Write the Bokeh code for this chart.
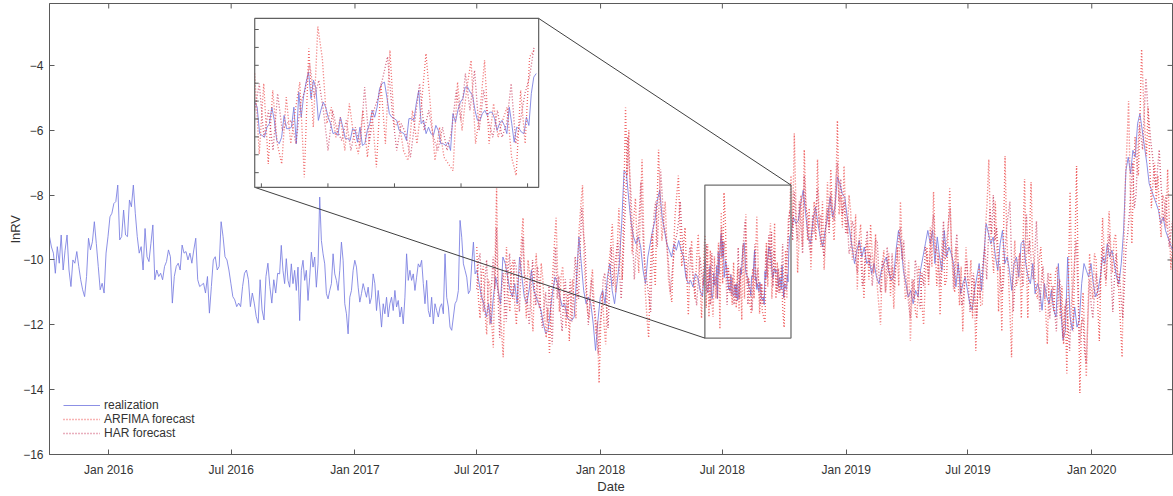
import numpy as np
import pandas as pd
from bokeh.plotting import figure
from bokeh.models import (Range1d, MonthsTicker, SingleIntervalTicker,
                          DatetimeTickFormatter, Legend, LegendItem)
from bokeh.embed import file_html
from bokeh.resources import INLINE

# ---------------- data ----------------
seg_edges = ["2015-10-05", "2016-09-11", "2017-07-01", "2018-06-05",
             "2018-10-11", "2019-05-06", "2020-04-30"]

real_1 = [-9.28, -9.60, -9.79, -10.41, -9.59, -10.10, -9.23, -10.31, -9.70, -9.23, -10.31, -10.82,
          -10.00, -10.10, -9.74, -10.20, -10.61, -10.92, -11.13, -10.51, -9.33, -9.69, -9.44, -8.82,
          -9.49, -10.20, -10.92, -10.72, -11.02, -9.79, -9.28, -8.67, -8.56, -8.26, -8.20, -7.69,
          -9.38, -9.28, -8.46, -9.23, -9.28, -8.15, -8.36, -7.69, -8.56, -9.28, -9.79, -9.59, -10.31,
          -9.03, -9.90, -10.05, -9.49, -8.92, -10.61, -10.31, -10.51, -10.41, -10.61, -10.20, -10.05,
          -9.69, -9.90, -11.33, -10.51, -10.20, -10.10, -10.31, -9.54, -9.79, -9.74, -10.00, -9.79,
          -10.10, -9.69, -9.33, -10.61, -10.82, -10.77, -10.72, -11.02, -10.51, -11.64, -10.82,
          -10.00, -9.90, -10.31, -10.20, -8.82, -9.28, -9.90, -10.00, -10.31, -10.72, -11.13, -11.23,
          -11.44, -11.33, -11.44, -10.82, -10.41, -10.31, -10.61, -11.44, -11.02, -11.33, -11.74,
          -11.95, -10.61, -11.54, -11.85, -10.51, -10.10, -10.82, -11.33, -10.61, -11.02, -10.41]

real_2 = [-10.43, -9.55, -10.32, -10.73, -9.96, -10.63, -10.84, -10.12, -10.73, -10.32, -10.94,
          -10.22, -11.87, -10.32, -10.01, -10.63, -10.32, -11.25, -10.53, -9.76, -10.22, -9.91,
          -10.84, -10.12, -8.06, -9.40, -9.81, -10.12, -11.04, -11.20, -10.94, -10.73, -9.81,
          -10.43, -10.63, -10.94, -10.32, -9.45, -10.01, -11.35, -11.66, -12.28, -11.15, -10.94,
          -10.32, -10.01, -10.22, -10.84, -11.30, -11.04, -10.73, -10.94, -11.15, -10.84, -11.35,
          -11.15, -10.43, -10.73, -11.56, -10.94, -11.45, -12.07, -11.35, -11.66, -11.15, -11.76,
          -11.35, -11.15, -11.56, -10.94, -11.45, -11.25, -11.76, -11.45, -11.97, -11.15, -9.81,
          -10.63, -10.32, -10.63, -10.43, -10.94, -10.53, -10.12, -10.22, -10.01, -10.73, -11.35,
          -10.63, -11.56, -11.76, -11.15, -11.97, -11.35, -11.56, -11.76, -11.45, -11.35, -11.66,
          -9.81, -11.15, -11.45, -12.07, -12.17, -11.76, -11.35, -11.25, -10.94, -8.78, -9.30,
          -10.12, -10.32, -10.53, -11.04, -10.94, -10.12, -9.45, -10.43]

real_3 = [-10.32, -10.73, -11.14, -11.35, -11.76, -11.35, -11.96, -11.14, -10.53, -10.94, -11.35,
          -9.91, -10.11, -10.53, -10.94, -11.14, -10.73, -11.35, -9.91, -10.53, -11.14, -11.35,
          -10.94, -10.32, -10.94, -11.14, -11.35, -11.55, -11.96, -12.27, -12.17, -11.55, -10.94,
          -10.53, -10.73, -11.14, -11.45, -11.35, -11.76, -11.86, -11.86, -11.76, -10.53, -9.29,
          -10.11, -10.94, -11.35, -11.14, -11.35, -11.96, -12.79, -11.86, -11.14, -10.94, -11.35,
          -10.53, -10.11, -10.94, -11.35, -10.73, -10.11, -8.88, -7.24, -7.34, -8.16, -8.88, -9.29,
          -9.50, -9.29, -9.60, -10.32, -10.73, -9.91, -9.50, -9.09, -8.78, -8.16, -7.85, -8.68,
          -9.09, -9.50, -9.70, -9.91, -9.50, -9.70, -9.40, -9.70, -9.91, -10.53, -10.73, -10.63,
          -10.83, -10.42, -10.53, -10.94, -11.14]

real_4 = [-10.03, -10.17, -10.91, -10.96, -11.01, -10.73, -10.63, -10.17, -10.54, -11.10, -11.19,
          -11.01, -10.40, -10.77, -10.77, -10.73, -10.17, -11.19, -9.75, -10.45, -9.84, -9.47,
          -9.19, -9.93, -9.42, -9.65, -10.54, -10.26, -10.03, -10.17, -10.45, -10.63, -10.91,
          -10.87, -10.96, -10.45, -10.73, -11.05, -11.05, -11.10, -10.77, -10.82, -11.15, -10.73,
          -11.24, -11.19, -10.82, -10.63, -10.26, -10.45, -10.17, -9.65, -9.51, -9.47, -9.89,
          -10.35, -10.45, -10.49, -10.54, -10.82, -10.87, -10.91, -11.10, -10.49, -10.49, -10.54,
          -10.07, -9.70, -10.63, -10.54, -10.91, -10.73, -10.91, -10.96, -10.68, -10.82, -11.19,
          -11.19, -11.24, -11.15, -11.38, -10.35, -10.59, -10.26, -10.03, -9.93, -9.61, -9.61,
          -9.75, -9.84, -10.26, -10.54, -10.54, -10.35, -10.26, -10.40, -10.31, -10.31, -10.49,
          -10.82, -10.63, -10.54, -10.68, -10.91, -10.17, -10.63, -11.15, -10.73, -10.77, -10.87,
          -10.91, -10.45, -10.68, -9.79, -9.33, -9.23]

real_5 = [-9.19, -8.68, -8.88, -8.78, -8.26, -7.85, -8.57, -9.29, -9.50, -8.78, -8.37, -8.88,
          -9.29, -9.60, -9.09, -8.68, -8.06, -8.68, -8.37, -7.44, -7.65, -7.96, -8.06, -8.68, -9.09,
          -9.60, -10.11, -9.70, -9.40, -9.91, -9.60, -10.11, -10.01, -10.42, -10.11, -10.53,
          -10.73, -10.32, -10.11, -9.91, -10.32, -10.63, -10.53, -9.70, -9.09, -9.50, -10.32,
          -10.73, -11.14, -10.94, -11.35, -10.94, -11.14, -10.32, -9.91, -9.50, -9.09]

real_6 = [-9.50, -9.09, -10.11, -9.29, -9.91, -10.32, -9.09, -9.91, -9.60, -9.81, -10.11, -10.83,
          -10.11, -11.04, -10.73, -10.53, -10.94, -11.35, -11.55, -10.94, -10.53, -10.11, -10.94,
          -9.91, -8.88, -9.19, -9.50, -9.29, -9.91, -10.32, -9.50, -9.09, -10.11, -9.91, -10.32,
          -10.94, -10.11, -9.91, -10.53, -9.50, -9.39, -10.11, -10.53, -10.73, -10.11, -11.04,
          -10.73, -10.94, -11.55, -10.73, -11.14, -11.35, -10.94, -11.55, -11.76, -10.11, -11.45,
          -12.48, -12.17, -9.91, -11.76, -12.17, -11.45, -12.07, -11.86, -10.73, -10.11, -10.32,
          -10.53, -10.11, -10.73, -11.14, -10.94, -10.53, -9.91, -10.11, -9.50, -9.91, -9.70,
          -10.11, -10.53, -10.73, -10.11, -9.09, -7.24, -6.83, -7.34, -6.62, -6.83, -5.80, -5.49,
          -6.00, -6.52, -7.03, -7.65, -7.85, -8.06, -8.26, -8.47, -8.88, -8.68, -9.09, -9.29,
          -9.50, -9.70]

arfima_3 = [-9.6, -11.2, -11.8, -10.4, -10.2, -11.6, -12.3, -10.6, -10.8, -11.9, -12.7, -10.2,
            -7.8, -10.9, -11.5, -12.2, -13.0, -10.8, -9.6, -11.0, -11.6, -10.2, -10.0, -11.4,
            -12.0, -10.6, -10.3, -9.4, -8.7, -10.9, -11.8, -10.0, -10.4, -11.5, -12.2, -10.5,
            -9.8, -11.2, -11.5, -10.1, -10.6, -11.7, -12.4, -11.5, -12.9, -11.2, -10.4, -9.5,
            -8.7, -10.6, -11.6, -10.5, -10.2, -11.3, -12.1, -11.0, -12.5, -11.2, -10.6, -11.5,
            -11.8, -10.2, -9.0, -8.3, -7.7, -10.0, -10.9, -11.6, -11.8, -10.7, -10.3, -11.4,
            -12.3, -11.9, -13.8, -12.0, -11.0, -12.0, -12.6, -11.0, -10.1, -9.6, -8.9, -10.2,
            -11.0, -9.6, -8.4, -9.9, -10.6, -8.2, -5.3, -7.4, -6.0, -8.6, -9.8, -8.7, -8.1, -9.6,
            -10.4, -8.4, -6.9, -9.2, -11.0, -11.8, -12.4, -10.4, -9.2, -10.0, -10.8, -8.4, -6.6,
            -8.0, -9.4, -8.8, -8.2, -9.5, -10.6, -11.0, -11.3, -9.8, -8.6, -8.0, -7.4, -9.0,
            -10.2, -9.6, -9.0, -10.4, -11.7, -10.2, -9.4, -10.6, -11.2, -10.0, -9.2, -10.6,
            -11.8, -10.4]

arfima_4 = [-9.23, -11.48, -9.51, -11.76, -9.70, -11.19, -11.76, -9.89, -11.19, -10.26, -9.47,
            -12.13, -8.53, -10.73, -7.92, -8.81, -10.63, -10.17, -11.01, -10.45, -11.38, -10.07,
            -11.01, -11.48, -10.26, -11.57, -10.26, -11.85, -9.51, -11.19, -8.58, -10.73, -10.54,
            -11.38, -11.66, -10.26, -11.19, -10.07, -8.67, -10.17, -11.66, -10.73, -11.57, -11.76,
            -11.94, -9.47, -10.82, -9.70, -8.86, -11.19, -10.26, -8.86, -11.19, -10.07, -11.01,
            -10.54, -10.17, -11.57, -12.08, -9.70, -11.19, -8.76, -8.58]

arfima_5 = [-7.4, -9.0, -6.1, -8.4, -10.4, -9.2, -8.0, -9.6, -6.6, -8.2, -9.4, -8.4, -10.3, -9.0,
            -8.2, -9.4, -6.9, -8.8, -9.6, -8.2, -10.3, -9.2, -7.6, -9.0, -7.2, -8.6, -9.4, -8.0,
            -5.7, -8.6, -8.0, -9.0, -7.1, -8.8, -9.2, -8.0, -8.5, -10.0, -9.6, -8.6, -10.9, -9.4,
            -8.9, -10.2, -11.2, -9.8, -9.4, -10.6, -8.9, -9.8, -10.4, -9.2, -10.8, -11.4, -12.0,
            -10.2, -9.7, -11.0, -10.6, -9.8, -11.1, -10.2, -11.5, -10.4, -9.6, -10.8, -8.2, -9.6,
            -10.2, -11.2, -11.0, -10.0, -12.5, -11.0, -10.6, -11.6, -11.8, -10.2, -10.4, -11.4,
            -12.0, -10.6, -9.6, -10.8]

arfima_6 = [-9.0, -10.2, -7.9, -9.6, -10.8, -9.8, -11.7, -10.4, -9.4, -10.8, -10.6, -9.2, -7.8,
            -9.6, -10.2, -11.0, -9.6, -10.6, -11.4, -10.2, -12.2, -10.8, -9.6, -10.6, -10.8,
            -10.0, -11.8, -10.6, -12.8, -11.0, -10.2, -11.4, -11.4, -10.0, -9.0, -8.2, -6.9, -9.0,
            -9.8, -10.4, -8.2, -9.6, -11.6, -10.2, -12.2, -9.4, -6.8, -9.2, -10.4, -11.6, -13.0,
            -10.6, -9.4, -10.8, -10.6, -9.8, -11.8, -9.6, -7.5, -9.8, -11.8, -9.4, -7.6, -9.6,
            -10.2, -11.0, -11.2, -10.0, -9.6, -10.6, -10.8, -11.6, -12.6, -10.8, -10.4, -11.2,
            -11.6, -10.4, -10.2, -11.2, -11.8, -10.8, -12.6, -11.4, -13.5, -10.6, -7.9, -10.4,
            -12.2, -9.6, -7.1, -10.6, -14.1, -12.0, -11.0, -12.4, -13.6, -11.6, -9.8, -10.8,
            -11.2, -9.8, -10.0, -11.4, -12.5, -10.4, -8.7, -9.8, -10.8, -9.6, -8.5, -9.6, -10.4,
            -9.4, -9.2, -10.2, -11.0, -12.0, -13.0, -9.8, -7.6, -6.4, -5.1, -7.8, -9.5, -7.4,
            -6.2, -7.0, -7.4, -5.6, -3.5, -4.8, -6.0, -6.8, -5.3, -7.0, -8.4, -7.6, -7.0, -8.2,
            -7.4, -8.6, -9.3, -8.0, -8.2, -9.0, -7.2, -8.8, -10.3, -9.4]

har_3 = [-10.9, -10.0, -9.8, -11.0, -11.6, -10.6, -10.0, -11.4, -12.0, -10.8, -9.9, -10.9, -9.0,
         -11.2, -12.4, -11.0, -10.4, -11.2, -11.9, -10.4, -9.8, -10.8, -11.2, -10.0, -10.2, -11.0,
         -11.6, -10.2, -9.3, -10.4, -10.6, -11.4, -12.0, -11.0, -10.0, -10.8, -11.4, -10.2, -10.6,
         -11.6, -12.1, -11.4, -11.0, -11.9, -10.8, -11.6, -12.6, -10.8, -9.6, -11.2, -10.5, -11.6,
         -12.2, -11.2, -10.6, -11.8, -11.3, -10.6, -11.9, -10.8, -9.9, -10.8, -11.2, -9.6, -8.4,
         -9.2, -9.6, -11.0, -12.0, -11.2, -10.6, -11.4, -11.6, -12.2, -12.9, -12.0, -11.6, -10.6,
         -10.4, -11.4, -12.1, -10.8, -9.6, -10.8, -10.2, -9.8, -9.4, -10.4, -11.2, -10.2, -9.0,
         -7.8, -6.2, -7.2, -8.0, -9.4, -10.6, -9.8, -9.4, -8.6, -7.6, -9.0, -9.9, -10.4, -10.8,
         -11.2, -11.6, -9.8, -8.6, -8.2, -9.6, -8.4, -7.2, -8.0, -8.9, -9.2, -9.6, -10.2, -11.0,
         -10.4, -9.9, -9.4, -9.2, -8.8, -8.2, -9.2, -9.8, -10.2, -10.6, -10.0, -9.6, -10.2, -10.6,
         -11.0, -11.4, -10.6, -9.9, -10.4, -10.8]

har_4 = [-10.26, -9.51, -11.01, -10.26, -11.38, -9.79, -10.82, -10.63, -10.54, -11.19, -10.07,
         -9.70, -8.95, -9.89, -9.42, -10.26, -11.38, -10.26, -10.82, -11.10, -10.54, -11.38,
         -10.73, -11.29, -9.61, -11.19, -10.26, -9.89, -9.33, -8.76, -10.26, -11.38, -10.63,
         -10.91, -11.57, -10.54, -9.51, -10.82, -10.26, -11.01, -11.38, -10.73, -11.38, -10.82,
         -9.70, -10.54, -9.23, -10.26, -9.14, -10.82, -9.70, -10.54, -11.01, -10.26, -11.01,
         -10.63, -9.51, -11.19, -10.54, -9.79, -9.33, -8.48]

har_5 = [-8.6, -9.4, -7.9, -8.8, -9.4, -8.2, -9.0, -9.8, -7.4, -8.4, -8.6, -9.6, -9.8, -8.6, -9.2,
         -8.4, -7.8, -9.0, -8.6, -9.6, -9.9, -8.8, -8.4, -9.2, -7.9, -8.4, -8.8, -7.6, -7.0, -8.2,
         -7.5, -8.6, -8.2, -9.2, -8.7, -9.8, -9.6, -8.8, -9.0, -10.0, -10.4, -9.4, -9.8, -10.8,
         -10.6, -9.6, -9.1, -10.2, -9.8, -10.8, -10.2, -9.4, -9.4, -10.4, -11.0, -10.0, -10.2,
         -11.0, -9.6, -10.4, -10.6, -9.8, -10.9, -10.2, -10.0, -9.2, -9.0, -10.0, -9.4, -10.4,
         -10.8, -11.4, -11.8, -10.6, -11.2, -10.0, -10.3, -11.2, -11.5, -10.4, -10.8, -9.6, -9.9,
         -10.6]

har_6 = [-9.8, -9.0, -8.6, -9.8, -9.6, -10.2, -10.8, -9.6, -8.8, -10.0, -9.4, -8.8, -8.4, -9.8,
         -10.9, -9.8, -9.2, -10.2, -10.6, -11.4, -11.2, -10.4, -10.0, -10.8, -11.6, -10.8, -10.4,
         -11.2, -11.8, -10.6, -11.2, -10.4, -10.0, -9.6, -10.6, -9.4, -8.4, -9.2, -8.0, -9.4,
         -9.0, -9.8, -10.2, -11.0, -10.8, -9.8, -9.0, -8.6, -8.2, -10.0, -11.6, -10.8, -10.6,
         -10.0, -9.8, -10.4, -10.8, -9.6, -8.6, -9.8, -9.4, -10.2, -10.6, -9.8, -8.8, -10.2,
         -11.6, -10.6, -10.2, -11.2, -11.0, -10.4, -11.8, -11.2, -10.8, -11.6, -12.2, -11.0,
         -10.6, -11.6, -12.4, -11.6, -11.2, -12.0, -12.8, -11.4, -10.8, -10.0, -9.4, -11.0, -12.6,
         -12.0, -11.8, -12.8, -13.2, -11.8, -10.6, -11.4, -11.8, -11.0, -10.4, -11.0, -11.2,
         -10.2, -9.6, -10.4, -10.6, -9.8, -9.2, -10.4, -11.6, -10.6, -9.8, -10.8, -10.4, -11.2,
         -11.8, -10.8, -9.6, -9.2, -8.6, -7.8, -7.0, -8.4, -8.0, -6.8, -5.8, -6.2, -6.6, -5.4,
         -4.4, -5.2, -5.8, -6.4, -6.8, -7.4, -7.8, -7.2, -6.6, -7.6, -8.4, -8.8, -8.0, -9.0, -9.6,
         -9.2, -8.8]

series_labels = ["realization", "ARFIMA forecast", "HAR forecast"]
x_tick_months = [0, 6]          # January and July
y_tick_interval = 2

# ---------------- layout constants ----------------
X_MAIN = ("2015-10-05", "2020-04-30")
Y_MAIN = (-16.0, -2.09)
ZOOM_X = ("2018-06-05", "2018-10-11")
ZOOM_Y = (-12.41, -7.69)
INSET_X = ("2016-08-05", "2017-10-01")
INSET_Y = (-7.76, -2.55)
FIG_W, FIG_H = 1173, 496
B_LEFT, B_RIGHT, B_TOP, B_BOTTOM = 49, 1, 3, 42
FRAME_W, FRAME_H = FIG_W - B_LEFT - B_RIGHT, FIG_H - B_TOP - B_BOTTOM

FONT = "Liberation Sans"
AX = "#5a5a5a"
TXT = "#333333"
C_REAL = "#787de0"
C_ARF = "#ee5a5a"
C_HAR = "#c8385a"


def ms(d):
    return pd.Timestamp(d).value / 1e6


def seg_times(edges, segs):
    out = []
    for i, s in enumerate(segs):
        a, b = ms(edges[i]), ms(edges[i + 1])
        out.append(np.linspace(a, b, len(s), endpoint=(i == len(segs) - 1)))
    return np.concatenate(out)


real_segs = [real_1, real_2, real_3, real_4, real_5, real_6]
arf_segs = [arfima_3, arfima_4, arfima_5, arfima_6]
har_segs = [har_3, har_4, har_5, har_6]

real_t = seg_times(seg_edges, real_segs)
real_v = np.concatenate(real_segs)
arf_t = seg_times(seg_edges[2:], arf_segs)
arf_v = np.concatenate(arf_segs)
har_t = seg_times(seg_edges[2:], har_segs)
har_v = np.concatenate(har_segs)

mx0, mx1 = ms(X_MAIN[0]), ms(X_MAIN[1])
zx0, zx1 = ms(ZOOM_X[0]), ms(ZOOM_X[1])
ix0, ix1 = ms(INSET_X[0]), ms(INSET_X[1])
px_x = (mx1 - mx0) / FRAME_W          # ms per pixel
px_y = (Y_MAIN[1] - Y_MAIN[0]) / FRAME_H

p = figure(width=FIG_W, height=FIG_H, x_axis_type="datetime",
           x_range=Range1d(mx0, mx1), y_range=Range1d(*Y_MAIN),
           output_backend="svg", toolbar_location=None,
           min_border_left=B_LEFT, min_border_right=B_RIGHT,
           min_border_top=B_TOP, min_border_bottom=B_BOTTOM,
           x_axis_label="Date", y_axis_label="lnRV")
p.xgrid.visible = False
p.ygrid.visible = False
p.outline_line_color = AX
p.background_fill_color = "white"
p.border_fill_color = "white"

p.xaxis.ticker = MonthsTicker(months=x_tick_months)
p.xaxis.formatter = DatetimeTickFormatter(months="%b %Y", years="%b %Y", days="%b %Y")
p.yaxis.ticker = SingleIntervalTicker(interval=y_tick_interval)

for ax in list(p.xaxis) + list(p.yaxis):
    ax.major_tick_in = 5
    ax.major_tick_out = 0
    ax.minor_tick_in = 0
    ax.minor_tick_out = 0
    ax.axis_line_color = AX
    ax.major_tick_line_color = AX
    ax.major_label_text_font = FONT
    ax.major_label_text_font_size = "12px"
    ax.major_label_text_color = TXT
    ax.axis_label_text_font = FONT
    ax.axis_label_text_font_size = "13px"
    ax.axis_label_text_font_style = "normal"
    ax.axis_label_text_color = TXT
p.xaxis.major_label_standoff = 8
p.xaxis.axis_label_standoff = -1
p.yaxis.major_label_standoff = 6
p.yaxis.axis_label_standoff = -3

# mirrored inward ticks on top and right edges of the box
top_ticks = np.array([ms(d) for d in pd.date_range("2016-01-01", "2020-01-01", freq="6MS")])
p.segment(x0=top_ticks, y0=[Y_MAIN[1]] * len(top_ticks), x1=top_ticks,
          y1=[Y_MAIN[1] - 5 * px_y] * len(top_ticks), line_color=AX, line_width=1)
right_ticks = np.arange(-16, -2.5, y_tick_interval)
p.segment(x0=[mx1] * len(right_ticks), y0=right_ticks, x1=[mx1 - 5 * px_x] * len(right_ticks),
          y1=right_ticks, line_color=AX, line_width=1)

# main series
r_real = p.line(real_t, real_v, line_color=C_REAL, line_width=1, line_alpha=0.85)
r_arf = p.line(arf_t, arf_v, line_color=C_ARF, line_width=1.4, line_dash="1 2", line_alpha=0.9)
r_har = p.line(har_t, har_v, line_color=C_HAR, line_width=1.4, line_dash="1 2", line_alpha=0.8)

# zoom rectangle and connectors
p.quad(left=[zx0], right=[zx1], bottom=[ZOOM_Y[0]], top=[ZOOM_Y[1]],
       fill_alpha=0, line_color="#707070", line_width=1.3)
p.segment(x0=[zx1, zx0], y0=[ZOOM_Y[1], ZOOM_Y[0]], x1=[ix1, ix0], y1=[INSET_Y[1], INSET_Y[0]],
          line_color="#2a2a2a", line_width=0.9)

# inset mapped with extra ranges
kx = (zx1 - zx0) / (ix1 - ix0)
ky = (ZOOM_Y[1] - ZOOM_Y[0]) / (INSET_Y[1] - INSET_Y[0])
p.extra_x_ranges = {"ix": Range1d(zx0 - (ix0 - mx0) * kx, zx0 + (mx1 - ix0) * kx)}
p.extra_y_ranges = {"iy": Range1d(ZOOM_Y[0] - (INSET_Y[0] - Y_MAIN[0]) * ky,
                                  ZOOM_Y[0] + (Y_MAIN[1] - INSET_Y[0]) * ky)}
kw = dict(x_range_name="ix", y_range_name="iy")

p.quad(left=[zx0], right=[zx1], bottom=[ZOOM_Y[0]], top=[ZOOM_Y[1]],
       fill_color="white", line_color=None, **kw)
m = (real_t >= zx0) & (real_t < zx1)
p.line(real_t[m], real_v[m], line_color=C_REAL, line_width=1, line_alpha=0.85, **kw)
m = (arf_t >= zx0) & (arf_t < zx1)
p.line(arf_t[m], arf_v[m], line_color=C_ARF, line_width=1.3, line_dash="1 2", line_alpha=0.9, **kw)
m = (har_t >= zx0) & (har_t < zx1)
p.line(har_t[m], har_v[m], line_color=C_HAR, line_width=1.3, line_dash="1 2", line_alpha=0.8, **kw)

tlx = 4 * px_x * kx
tly = 4 * px_y * ky
yt = np.arange(-12.0, -7.9, 0.5)
p.segment(x0=[zx0] * len(yt), y0=yt, x1=[zx0 + tlx] * len(yt), y1=yt,
          line_color=AX, line_width=1, **kw)
xt = np.array([ms(d) for d in pd.date_range("2018-06-08", periods=5, freq="30D")])
p.segment(x0=xt, y0=[ZOOM_Y[0]] * len(xt), x1=xt, y1=[ZOOM_Y[0] + tly] * len(xt),
          line_color=AX, line_width=1, **kw)
p.quad(left=[zx0], right=[zx1], bottom=[ZOOM_Y[0]], top=[ZOOM_Y[1]],
       fill_alpha=0, line_color="#606060", line_width=1.2, **kw)

legend = Legend(items=[LegendItem(label=series_labels[0], renderers=[r_real]),
                       LegendItem(label=series_labels[1], renderers=[r_arf]),
                       LegendItem(label=series_labels[2], renderers=[r_har])],
                location=(14, 14), padding=0, margin=0, spacing=0,
                label_height=14, glyph_height=14, glyph_width=37, label_standoff=4,
                border_line_alpha=0, background_fill_alpha=0,
                label_text_font=FONT, label_text_font_size="12px", label_text_color=TXT)
p.add_layout(legend)

open("out.html", "w").write(file_html(p, INLINE))
